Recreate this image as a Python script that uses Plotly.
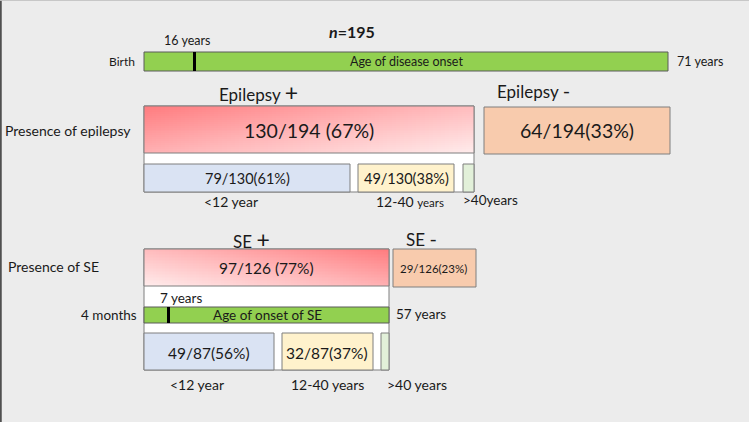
import numpy as np
import plotly.graph_objects as go

# ---------------- data ----------------
total_n = 195
onset_range = ["Birth", "16 years", "71 years"]          # min, median, max age of disease onset
se_onset_range = ["4 months", "7 years", "57 years"]     # min, median, max age of SE onset

epi_groups = ["Epilepsy", "Epilepsy"]
epi_signs = ["+", "-"]
epi_counts = [130, 64]
epi_denom = 194
epi_pct = [67, 33]

epi_age_groups = ["<12 year", "12-40 years", ">40years"]
epi_age_counts = [79, 49, 2]
epi_age_denom = 130
epi_age_pct = [61, 38, None]

se_groups = ["SE", "SE"]
se_counts = [97, 29]
se_denom = 126
se_pct = [77, 23]

se_age_groups = ["<12 year", "12-40 years", ">40 years"]
se_age_counts = [49, 32, 6]
se_age_denom = 87
se_age_pct = [56, 37, None]

# ---------------- layout / style ----------------
FONT = "Lato, 'Liberation Sans', Arial, sans-serif"
BG = "#ececec"
EDGE = "#7f7f7f"
GREEN = "#92d050"
ORANGE = "#f8cbad"
BLUE = "#dae3f3"
YELLOW = "#fff2cc"
LGREEN = "#e2f0d9"
RED_SCALE = [[0, "#ff7b7e"], [0.5, "#ffb6b8"], [1, "#ffecec"]]

fig = go.Figure()
shapes = []
ann = []


def rect(x0, y0, x1, y1, fill=None, line=EDGE, width=1, layer="below"):
    shapes.append(dict(type="rect", xref="x", yref="y", x0=x0, y0=y0, x1=x1, y1=y1,
                       fillcolor=fill if fill else "rgba(0,0,0,0)",
                       line=dict(color=line, width=width), layer=layer))


def text(x, y, s, size, anchor="center", color="#1a1a1a"):
    ann.append(dict(x=x, y=y, xref="x", yref="y", text=s, showarrow=False,
                    xanchor=anchor, yanchor="middle",
                    font=dict(family=FONT, size=size, color=color)))


def gradient(x0, y0, x1, y1, flip=False):
    nx, ny = 80, 24
    xs = np.linspace(x0, x1, nx + 1)
    ys = np.linspace(y0, y1, ny + 1)
    u = (np.arange(nx) + 0.5) / nx
    v = (np.arange(ny) + 0.5) / ny
    U, V = np.meshgrid(u, v)
    z = ((1 - U) if flip else U) * 0.55 + V * 0.45
    fig.add_trace(go.Heatmap(x=xs, y=ys, z=z, zmin=0, zmax=1, colorscale=RED_SCALE,
                             showscale=False, hoverinfo="skip", zsmooth=False))
    rect(x0, y0, x1, y1, layer="above")


def frac(c, d, p, sep=""):
    return f"{c}/{d}{sep}({p}%)"


def signed(label, sign, big):
    return f"{label} <span style='font-size:{big}px'>{sign}</span>"


# n
text(352, 31, f"<b><i>n</i>={total_n}</b>", 16)

# age of disease onset bar
rect(144, 52, 668, 71, fill=GREEN, line="#5a5a5a")
rect(193, 52, 196, 71, fill="black", line="black", width=0, layer="above")
text(137, 61, onset_range[0], 12, "right")
text(187, 40, onset_range[1], 12.5)
text(675, 61, onset_range[2], 12.5, "left")
text(406, 61, "Age of disease onset", 12.5)

# Epilepsy section
text(258, 92, signed(epi_groups[0], epi_signs[0], 23), 17)
text(533, 90, signed(epi_groups[1], epi_signs[1], 20), 17)
text(3, 130, "Presence of epilepsy", 14, "left")
rect(144, 106, 474, 192, fill="white")
gradient(144, 106, 474, 153)
text(309, 130, frac(epi_counts[0], epi_denom, epi_pct[0], " "), 19.5)
rect(484, 107, 670, 154, fill=ORANGE)
text(577, 130, frac(epi_counts[1], epi_denom, epi_pct[1]), 19.5)

rect(144, 164, 350, 192, fill=BLUE)
rect(358, 164, 454, 192, fill=YELLOW)
rect(463, 164, 474, 192, fill=LGREEN)
text(247, 178, frac(epi_age_counts[0], epi_age_denom, epi_age_pct[0]), 14.5)
text(406, 178, frac(epi_age_counts[1], epi_age_denom, epi_age_pct[1]), 14.5)
text(231, 201, epi_age_groups[0], 14)
text(410, 201, "12-40 <span style='font-size:11.5px'>years</span>", 14)
text(461, 200, epi_age_groups[2], 13.5, "left")

# SE section
text(251, 239, signed(se_groups[0], epi_signs[0], 23), 17)
text(421, 238, signed(se_groups[1], epi_signs[1], 20), 17)
text(6, 266, "Presence of SE", 14, "left")
rect(144, 249, 389, 370, fill="white")
gradient(144, 249, 389, 286, flip=True)
text(266, 268, frac(se_counts[0], se_denom, se_pct[0], " "), 15.5)
rect(393, 249, 476, 287, fill=ORANGE)
text(433, 268, frac(se_counts[1], se_denom, se_pct[1]), 11.5)

rect(144, 307, 389, 323, fill=GREEN, line="#5a5a5a")
rect(167, 307, 170, 323, fill="black", line="black", width=0, layer="above")
text(139, 315, se_onset_range[0], 13.5, "right")
text(181, 298, se_onset_range[1], 13.5)
text(394, 314, se_onset_range[2], 13.5, "left")
text(267, 315, "Age of onset of SE", 13.5)

rect(144, 333, 274, 370, fill=BLUE)
rect(282, 333, 373, 370, fill=YELLOW)
rect(381, 333, 389, 370, fill=LGREEN)
text(209, 353, frac(se_age_counts[0], se_age_denom, se_age_pct[0]), 15.5)
text(327, 353, frac(se_age_counts[1], se_age_denom, se_age_pct[1]), 15.5)
text(197, 384, se_age_groups[0], 14)
text(327, 384, se_age_groups[1], 14)
text(385, 384, se_age_groups[2], 14, "left")

# frame
shapes.append(dict(type="line", xref="paper", yref="paper", x0=0.001, x1=0.001, y0=0, y1=1,
                   line=dict(color="#505050", width=2), layer="above"))
shapes.append(dict(type="line", xref="paper", yref="paper", x0=0, x1=1, y0=0.999, y1=0.999,
                   line=dict(color="#c4c4c4", width=1), layer="above"))

fig.update_layout(
    width=749, height=422, margin=dict(l=0, r=0, t=0, b=0),
    paper_bgcolor=BG, plot_bgcolor=BG,
    xaxis=dict(range=[0, 749], visible=False, fixedrange=True),
    yaxis=dict(range=[422, 0], visible=False, fixedrange=True),
    shapes=shapes, annotations=ann, showlegend=False,
)
fig.write_html("out.html", config={"displayModeBar": False},
               post_script="document.body.style.margin='0';document.body.style.overflow='hidden';")
